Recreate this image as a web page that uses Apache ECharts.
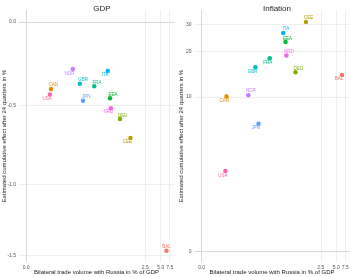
<!DOCTYPE html>
<html>
<head>
<meta charset="utf-8">
<script src="https://cdn.jsdelivr.net/npm/echarts@6/dist/echarts.min.js"></script>
<style>
  html, body { margin: 0; padding: 0; background: #fff; }
  #chart { width: 350px; height: 277px; }
</style>
</head>
<body>
<div id="chart"></div>
<script>
const countries = ["BAL", "CAN", "CEE", "DEU", "EEA", "FRA", "GBR", "ITA", "JPN", "NOR", "NRD", "USA"];
const tradeVolume = [6.47, 0.032, 1.28, 0.8, 0.51, 0.25, 0.13, 0.46, 0.15, 0.094, 0.53, 0.03];
const gdpEffect = [-1.465, -0.401, -0.702, -0.584, -0.457, -0.383, -0.369, -0.292, -0.472, -0.28, -0.517, -0.433];
const inflationEffect = [14.0, 10.1, 31.0, 14.6, 23.0, 18.0, 15.7, 26.3, 6.64, 10.3, 18.8, 3.04];

const xTicks = [0, 2.5, 5, 7.5];
const xTickLabels = ["0.0", "2.5", "5.0", "7.5"];
const gdpTicks = [-1.5, -1, -0.5, 0];
const gdpTickLabels = ["-1.5", "-1.0", "-0.5", "0.0"];
const inflationTicks = [0, 10, 20, 30];
const inflationTickLabels = ["0", "10", "20", "30"];

// ggplot hue palette, one per country
const countryColors = ["#F8766D", "#DE8C00", "#B79F00", "#7CAE00", "#00BA38", "#00C08B",
  "#00BFC4", "#00B4F0", "#619CFF", "#C77CFF", "#F564E3", "#FF64B0"];

// label nudges (px), like ggrepel placed them
const gdpLabelNudge = [[0, -3.7], [2.3, -4], [-3, 3.3], [2.7, -3.7], [3, -4], [2.7, -3.7],
  [3.4, -4], [-2.7, 4], [3.3, -3.7], [-3.4, 4.7], [-2.4, 4], [-2.7, 4]];
const inflationLabelNudge = [[-3, 4.3], [-2.4, 4], [2.7, -4.3], [2.6, -3.6], [2, -3.7], [-2, 4.4],
  [-2.7, 4.4], [2.7, -4], [-2.7, 4.3], [2.4, -4], [2.4, -3.6], [-2.4, 4.7]];

// pseudo-log scales of the original
const tx = (v) => Math.asinh(v / 0.0233);
const ty = (v) => Math.asinh(v / 2);

const font = "Liberation Sans, Arial, sans-serif";
const gridColor = "#ebebeb";
const axisColor = "#d4d4d4";

const chart = echarts.init(document.getElementById("chart"));

// pick the label of the nearest tick
const nearest = (ticks, labels, scale) => (v) => {
  const pos = ticks.map(scale);
  let best = 0;
  pos.forEach((t, i) => {
    if (Math.abs(t - v) < Math.abs(pos[best] - v)) best = i;
  });
  return labels[best];
};

const makeXAxis = (gridIndex) => ({
  type: "value",
  gridIndex: gridIndex,
  min: -0.32,
  max: 6.66,
  name: "Bilateral trade volume with Russia in % of GDP",
  nameLocation: "middle",
  nameGap: 7,
  nameMoveOverlap: false,
  nameTextStyle: { fontFamily: font, fontSize: 6, color: "#222" },
  axisLine: { show: true, lineStyle: { color: axisColor, width: 0.8 } },
  axisTick: { show: false, customValues: xTicks.map(tx) },
  axisLabel: {
    customValues: xTicks.map(tx),
    formatter: nearest(xTicks, xTickLabels, tx),
    fontFamily: font, fontSize: 5, color: "#555", margin: 3,
  },
  splitLine: { show: true, lineStyle: { color: gridColor, width: 0.8 } },
});

const makeYAxis = (gridIndex, ticks, labels, min, max, gap) => ({
  type: "value",
  gridIndex: gridIndex,
  min: min,
  max: max,
  name: "Estimated cumulative effect after 24 quarters in %",
  nameLocation: "middle",
  nameGap: gap,
  nameMoveOverlap: false,
  nameTextStyle: { fontFamily: font, fontSize: 6, color: "#222" },
  axisLine: { show: true, lineStyle: { color: axisColor, width: 0.8 } },
  axisTick: { show: false, customValues: ticks.map(ty) },
  axisLabel: {
    customValues: ticks.map(ty),
    formatter: nearest(ticks, labels, ty),
    fontFamily: font, fontSize: 5, color: "#555", margin: 3,
  },
  splitLine: { show: true, lineStyle: { color: gridColor, width: 0.8 } },
});

const makeSeries = (index, yValues, nudges) => ({
  type: "scatter",
  xAxisIndex: index,
  yAxisIndex: index,
  symbolSize: 4.5,
  z: 3,
  data: countries.map((c, i) => ({
    name: c,
    value: [tx(tradeVolume[i]), ty(yValues[i])],
    itemStyle: { color: countryColors[i], opacity: 1 },
    label: {
      show: true,
      formatter: c,
      position: "inside",
      offset: nudges[i],
      color: countryColors[i],
      fontFamily: font,
      fontSize: 4.5,
    },
  })),
});

const option = {
  animation: false,
  title: [
    { text: "GDP", left: 97, top: 0, textAlign: "center",
      textStyle: { fontFamily: font, fontSize: 8, fontWeight: "normal", color: "#222" } },
    { text: "Inflation", left: 272, top: 0, textAlign: "center",
      textStyle: { fontFamily: font, fontSize: 8, fontWeight: "normal", color: "#222" } },
  ],
  grid: [
    { left: 19, top: 10, width: 155, height: 252, outerBoundsMode: "none" },
    { left: 194.5, top: 10, width: 155, height: 252, outerBoundsMode: "none" },
  ],
  xAxis: [makeXAxis(0), makeXAxis(1)],
  yAxis: [
    makeYAxis(0, gdpTicks, gdpTickLabels, -0.7122, 0.0356, 12),
    makeYAxis(1, inflationTicks, inflationTickLabels, -0.154, 3.6156, 10.5),
  ],
  series: [
    makeSeries(0, gdpEffect, gdpLabelNudge),
    makeSeries(1, inflationEffect, inflationLabelNudge),
  ],
};

chart.setOption(option);
</script>
</body>
</html>
